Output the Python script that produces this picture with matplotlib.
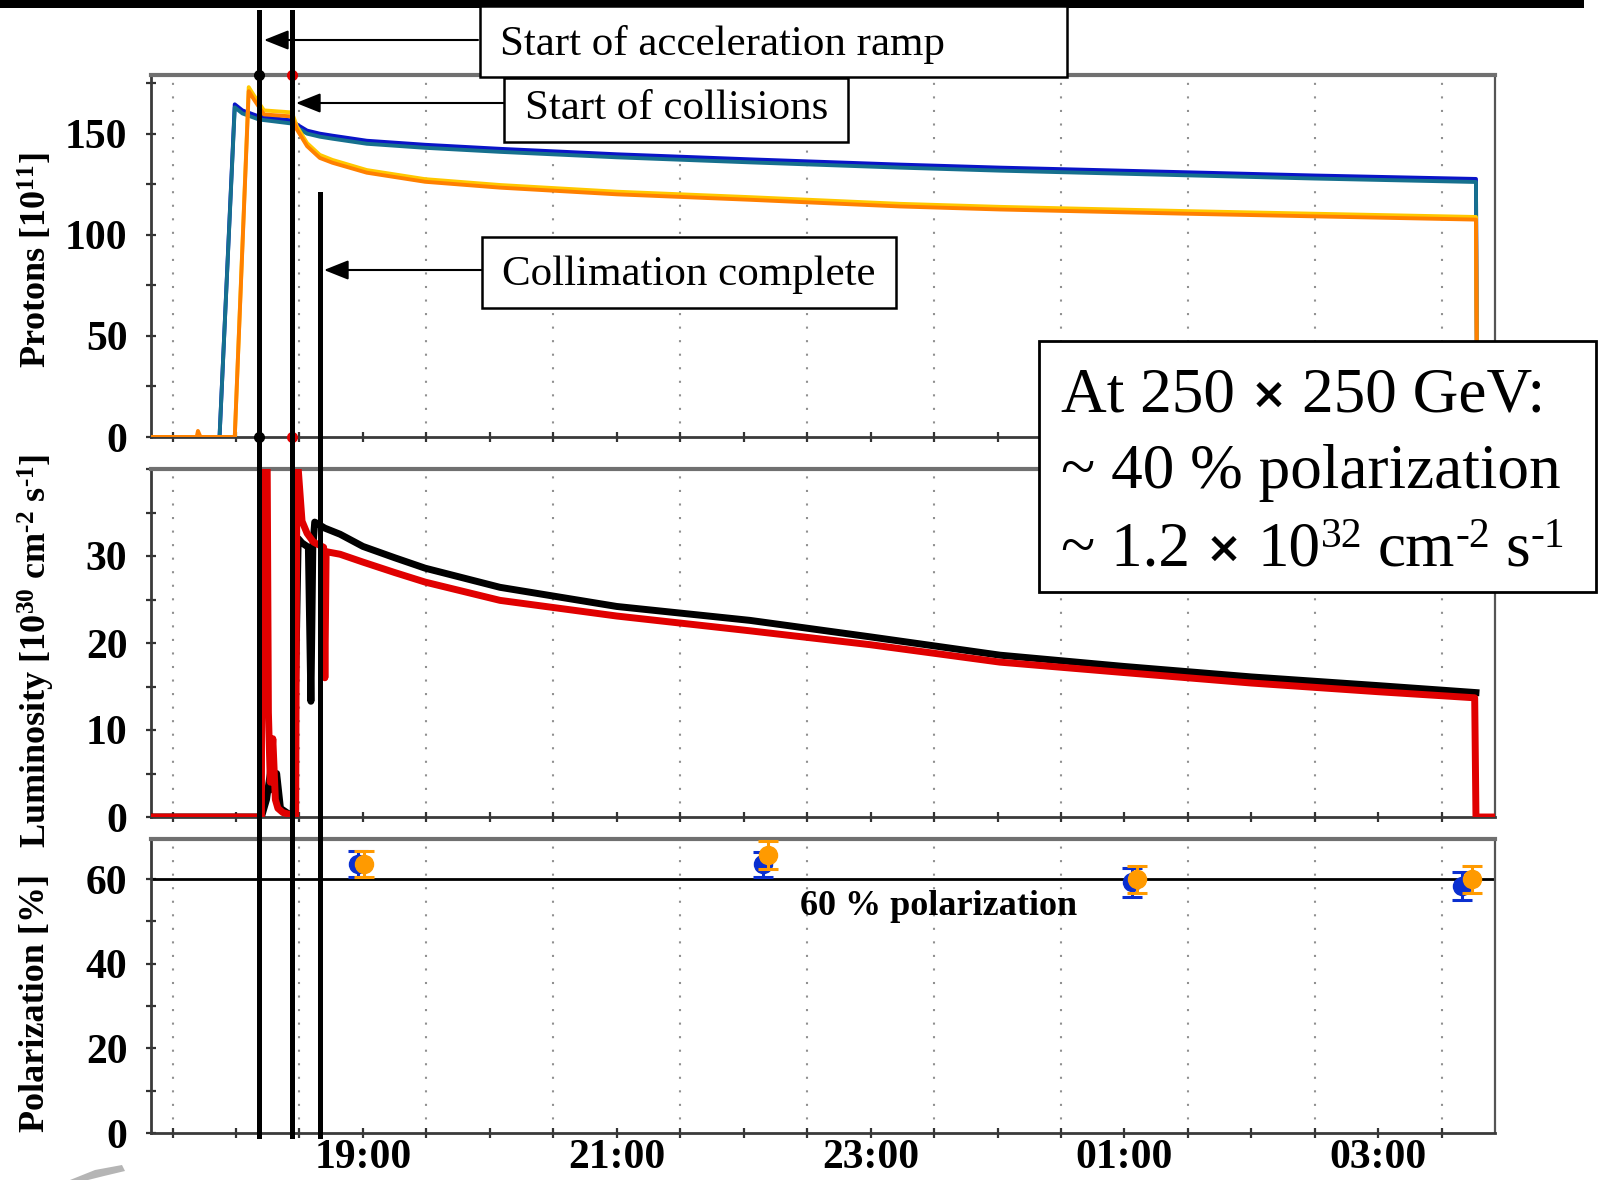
import matplotlib
matplotlib.use("Agg")
import matplotlib.pyplot as plt
from matplotlib.lines import Line2D
from matplotlib.patches import Rectangle, Polygon
from matplotlib.transforms import blended_transform_factory
from matplotlib.ticker import FixedLocator, MultipleLocator

# ---------------------------------------------------------------- data
# time axis in hours after midnight of the fill's first day (25 = 01:00)
x_min, x_max = 17.33, 27.92
label_hours = [19, 21, 23, 25, 27]
label_text = ["19:00", "21:00", "23:00", "01:00", "03:00"]
grid_hours = [17.5, 18.5, 19.5, 20.5, 21.5, 22.5, 23.5, 24.5, 25.5, 26.5, 27.5]

# event markers
t_ramp = 18.18
t_collisions = 18.44
t_collimation = 18.66

# bunch intensity, blue ring (two monitors)
blue_t = [17.33, 17.87, 17.99, 18.05, 18.18, 18.44, 18.48, 18.56, 18.66, 18.76,
          19.03, 19.49, 20.08, 21.0, 22.05, 23.23, 24.02, 25.49, 26.5, 27.77, 27.78]
blue_dcct = [0, 0, 164.5, 161.5, 158.5, 156.5, 154.5, 151.5, 150, 149,
             146.5, 144.5, 142.5, 139.8, 137.3, 134.7, 133.2, 130.9, 129.3, 127.6, 0]
blue_wcm = [0, 0, 163, 160, 157, 155, 153, 150, 148.5, 147.5,
            145, 143, 141, 138.3, 135.8, 133.2, 131.7, 129.4, 127.8, 126.1, 0]

# bunch intensity, yellow ring (two monitors)
yellow_t = [17.33, 17.69, 17.70, 17.72, 17.99, 18.10, 18.14, 18.22, 18.44, 18.48,
            18.56, 18.66, 18.76, 19.03, 19.49, 20.08, 21.0, 22.05, 23.23, 24.02,
            25.49, 26.5, 27.77, 27.78]
yellow_dcct = [0, 0, 0, 0, 0, 173, 169, 161.5, 160.5, 153.5,
               145.3, 139.5, 137, 132, 127.5, 124.6, 121.3, 118.6, 115.3, 113.8,
               111.7, 110.4, 108.8, 0]
yellow_wcm = [0, 0, 3, 0, 0, 171, 167, 159.5, 158.5, 152,
              143.8, 138, 135.6, 130.7, 126.2, 123.3, 120, 117.3, 114, 112.5,
              110.4, 109.1, 107.5, 0]

# luminosity, two experiments [1e30 cm^-2 s^-1]
lum_red_t = [17.33, 18.20, 18.205, 18.245, 18.255, 18.27, 18.29, 18.31, 18.33, 18.37,
             18.42, 18.47, 18.48, 18.52, 18.56, 18.61, 18.69, 18.70, 18.71, 18.82,
             19.0, 19.25, 19.49, 20.08, 21.0, 22.05, 23.0, 24.02, 25.0, 26.0, 27.0,
             27.76, 27.77, 27.92]
lum_red = [0, 0, 42, 42, 12, 4, 9, 2, 1, 0.5,
           0.3, 0, 42, 34, 32.6, 31.6, 31, 16, 30.5, 30.2,
           29.3, 28.1, 27.0, 24.9, 23.1, 21.4, 19.8, 17.8, 16.6, 15.4, 14.4,
           13.7, 0, 0]
lum_black_t = [17.33, 18.20, 18.24, 18.27, 18.28, 18.30, 18.32, 18.35, 18.40, 18.45,
               18.49, 18.52, 18.57, 18.59, 18.605, 18.62, 18.70, 18.82, 19.0, 19.25,
               19.49, 20.08, 21.0, 22.05, 23.0, 24.02, 25.0, 26.0, 27.0, 27.77]
lum_black = [0, 0, 2, 5, 7.7, 3, 5, 1, 0.5, 0,
             32, 31.5, 31, 13.3, 31, 33.9, 33.2, 32.5, 31.1, 29.8,
             28.6, 26.4, 24.2, 22.6, 20.7, 18.6, 17.3, 16.1, 15.1, 14.3]

# polarization measurements [%]
pol_blue_t = [18.96, 22.15, 25.06, 27.66]
pol_blue = [63.6, 63.5, 59.3, 58.4]
pol_blue_err = [3.1, 3.0, 3.4, 3.3]
pol_yellow_t = [19.01, 22.19, 25.10, 27.74]
pol_yellow = [63.6, 65.7, 60.0, 60.0]
pol_yellow_err = [3.1, 3.3, 3.2, 3.2]
pol_reference = 60

# ---------------------------------------------------------------- style
W, H, DPI = 1598, 1180, 100
SERIF = "Liberation Serif"
plt.rcParams["font.family"] = [SERIF, "DejaVu Serif"]
plt.rcParams["mathtext.fontset"] = "custom"
plt.rcParams["mathtext.rm"] = SERIF
plt.rcParams["mathtext.bf"] = SERIF + ":bold"
plt.rcParams["mathtext.it"] = SERIF + ":italic"

C_BLUE, C_TEAL = "#0a14c8", "#16708e"
C_YEL, C_ORA = "#ffc800", "#ff8000"
C_RED = "#e00000"
C_PB, C_PY = "#0a2fd0", "#ff9a00"
HY = "\u2010"  # short hyphen used in the exponents

fig = plt.figure(figsize=(W / DPI, H / DPI), dpi=DPI)


def panel(y_top, y_bot):
    return fig.add_axes([151 / W, 1 - y_bot / H, (1495 - 151) / W, (y_bot - y_top) / H])


ax_p = panel(75, 437)
ax_l = panel(469, 817)
ax_q = panel(839, 1133)

for ax in (ax_p, ax_l, ax_q):
    ax.set_xlim(x_min, x_max)
    for g in grid_hours:
        ax.axvline(g, color="#909090", lw=1.5, ls=(0, (1, 5.5)), zorder=0)
    ax.xaxis.set_major_locator(FixedLocator(label_hours))
    ax.xaxis.set_minor_locator(MultipleLocator(0.5))
    ax.tick_params(axis="both", which="both", direction="inout", length=7,
                   width=1.6, color="#333333")
    ax.tick_params(axis="y", pad=13.5, labelsize=30)
    ax.tick_params(axis="x", pad=0.5, labelsize=30)
    ax.spines["left"].set_color("#3a3a3a")
    ax.spines["bottom"].set_color("#3a3a3a")
    ax.spines["left"].set_linewidth(2.0)
    ax.spines["bottom"].set_linewidth(2.0)
    ax.spines["top"].set_color("#707070")
    ax.spines["top"].set_linewidth(3.0)
    ax.spines["right"].set_color("#555555")
    ax.spines["right"].set_linewidth(1.6)

# protons
ax_p.plot(blue_t, blue_dcct, color=C_BLUE, lw=2.8, zorder=3)
ax_p.plot(blue_t, blue_wcm, color=C_TEAL, lw=2.8, zorder=3)
ax_p.plot(yellow_t, yellow_dcct, color=C_YEL, lw=2.8, zorder=4)
ax_p.plot(yellow_t, yellow_wcm, color=C_ORA, lw=2.8, zorder=4)
ax_p.set_ylim(0, 179)
ax_p.yaxis.set_major_locator(FixedLocator([0, 50, 100, 150]))
ax_p.yaxis.set_minor_locator(MultipleLocator(25))
ax_p.set_xticklabels([])

# luminosity
ax_l.plot(lum_black_t, lum_black, color="black", lw=5.0, zorder=3)
ax_l.plot(lum_red_t, lum_red, color=C_RED, lw=5.0, zorder=4)
ax_l.set_ylim(0, 40)
ax_l.yaxis.set_major_locator(FixedLocator([0, 10, 20, 30]))
ax_l.yaxis.set_minor_locator(MultipleLocator(5))
ax_l.set_xticklabels([])

# polarization
ax_q.axhline(pol_reference, color="black", lw=2.0, zorder=2)
ax_q.errorbar(pol_blue_t, pol_blue, yerr=pol_blue_err, fmt="o", color=C_PB,
              ms=13, capsize=7, elinewidth=2.2, capthick=2.2, zorder=4)
ax_q.errorbar(pol_yellow_t, pol_yellow, yerr=pol_yellow_err, fmt="o", color=C_PY,
              ms=13, capsize=7, elinewidth=2.2, capthick=2.2, zorder=5)
ax_q.text(22.44, 51.5, "60 % polarization", fontsize=26, fontweight="bold",
          ha="left", va="baseline")
ax_q.set_ylim(0, 69.5)
ax_q.yaxis.set_major_locator(FixedLocator([0, 20, 40, 60]))
ax_q.yaxis.set_minor_locator(MultipleLocator(10))
ax_q.set_xticklabels(label_text, fontweight="bold")

for ax in (ax_p, ax_l, ax_q):
    for lab in ax.get_yticklabels():
        lab.set_fontweight("bold")

# event dots on the intensity panel
ax_p.plot([t_ramp, t_ramp], [179, 0], "o", color="black", ms=7, clip_on=False, zorder=6)
ax_p.plot([t_collisions, t_collisions], [179, 0], "o", color=C_RED, ms=7,
          clip_on=False, zorder=6)

# axis titles
fig.text(36 / W, 1 - 260 / H, r"Protons [10$^{\mathbf{11}}$]", rotation=90,
         ha="center", va="center", fontsize=26, fontweight="bold")
fig.text(36 / W, 1 - 651 / H,
         r"Luminosity [10$^{\mathbf{30}}$ cm$^{\mathbf{" + HY + r"2}}$ s$^{\mathbf{" + HY + r"1}}$]",
         rotation=90, ha="center", va="center", fontsize=26, fontweight="bold")
fig.text(36 / W, 1 - 1003 / H, "Polarization [%]", rotation=90,
         ha="center", va="center", fontsize=26, fontweight="bold")

# vertical event lines across all panels
trans = blended_transform_factory(ax_p.transData, fig.transFigure)
for t, y0 in ((t_ramp, 12), (t_collisions, 12), (t_collimation, 194)):
    fig.add_artist(Line2D([t, t], [1 - y0 / H, 1 - 1136 / H], transform=trans,
                          color="black", lw=3.6, zorder=5))

# overlay in pixel units for the callouts
ov = fig.add_axes([0, 0, 1, 1], zorder=10)
ov.set_xlim(0, W)
ov.set_ylim(H, 0)
ov.axis("off")
ov.patch.set_alpha(0)

ov.add_patch(Rectangle((0, 0), 1584, 8, color="black", lw=0))

arrow = dict(arrowstyle="-|>,head_length=0.75,head_width=0.3", color="black",
             lw=1.5, mutation_scale=20, shrinkA=0, shrinkB=0)

ov.add_patch(Rectangle((480, 6), 587, 71, fc="white", ec="black", lw=1.8))
ov.text(500, 55, "Start of acceleration ramp", fontsize=31, va="baseline")
ov.annotate("", xy=(264, 40), xytext=(478, 40), arrowprops=arrow)

ov.add_patch(Rectangle((504, 78), 344, 64, fc="white", ec="black", lw=1.8))
ov.text(525, 119, "Start of collisions", fontsize=31, va="baseline")
ov.annotate("", xy=(296, 103), xytext=(504, 103), arrowprops=arrow)

ov.add_patch(Rectangle((482, 237), 414, 71, fc="white", ec="black", lw=1.8))
ov.text(502, 285, "Collimation complete", fontsize=31, va="baseline")
ov.annotate("", xy=(324, 270), xytext=(482, 270), arrowprops=arrow)

# summary box, written piece by piece so the exponents and the cross keep their look
ov.add_patch(Rectangle((1039, 341), 557, 251, fc="white", ec="black", lw=2.0))
renderer = fig.canvas.get_renderer()
FS = 45.5
SUP = 30
space = 0.25 * FS * DPI / 72


def run(x, y, pieces):
    for s, kw in pieces:
        if s == " ":
            x += space
            continue
        kw = dict(kw)
        dy = kw.pop("dy", 0)
        t = ov.text(x, y + dy, s, va="baseline", **kw)
        x += t.get_window_extent(renderer).width


cross = dict(fontsize=31, family="DejaVu Sans", fontweight="bold", dy=-3)
sup = dict(fontsize=SUP, dy=-18)
run(1061, 411, [("At 250", dict(fontsize=FS)), (" ", {}), ("\u00d7", cross), (" ", {}),
                ("250 GeV:", dict(fontsize=FS))])
run(1061, 488, [("~ 40 % polarization", dict(fontsize=FS))])
run(1061, 565, [("~ 1.2", dict(fontsize=FS)), (" ", {}), ("\u00d7", cross), (" ", {}),
                ("10", dict(fontsize=FS)), ("32", sup), (" ", {}),
                ("cm", dict(fontsize=FS)), (HY + "2", sup), (" ", {}),
                ("s", dict(fontsize=FS)), (HY + "1", sup)])

ov.add_patch(Polygon([(70, 1180), (95, 1170), (122, 1165), (125, 1171),
                      (104, 1176), (88, 1180)], closed=True, fc="#b5b5b5", ec="none"))

fig.savefig("out.png", dpi=DPI)
